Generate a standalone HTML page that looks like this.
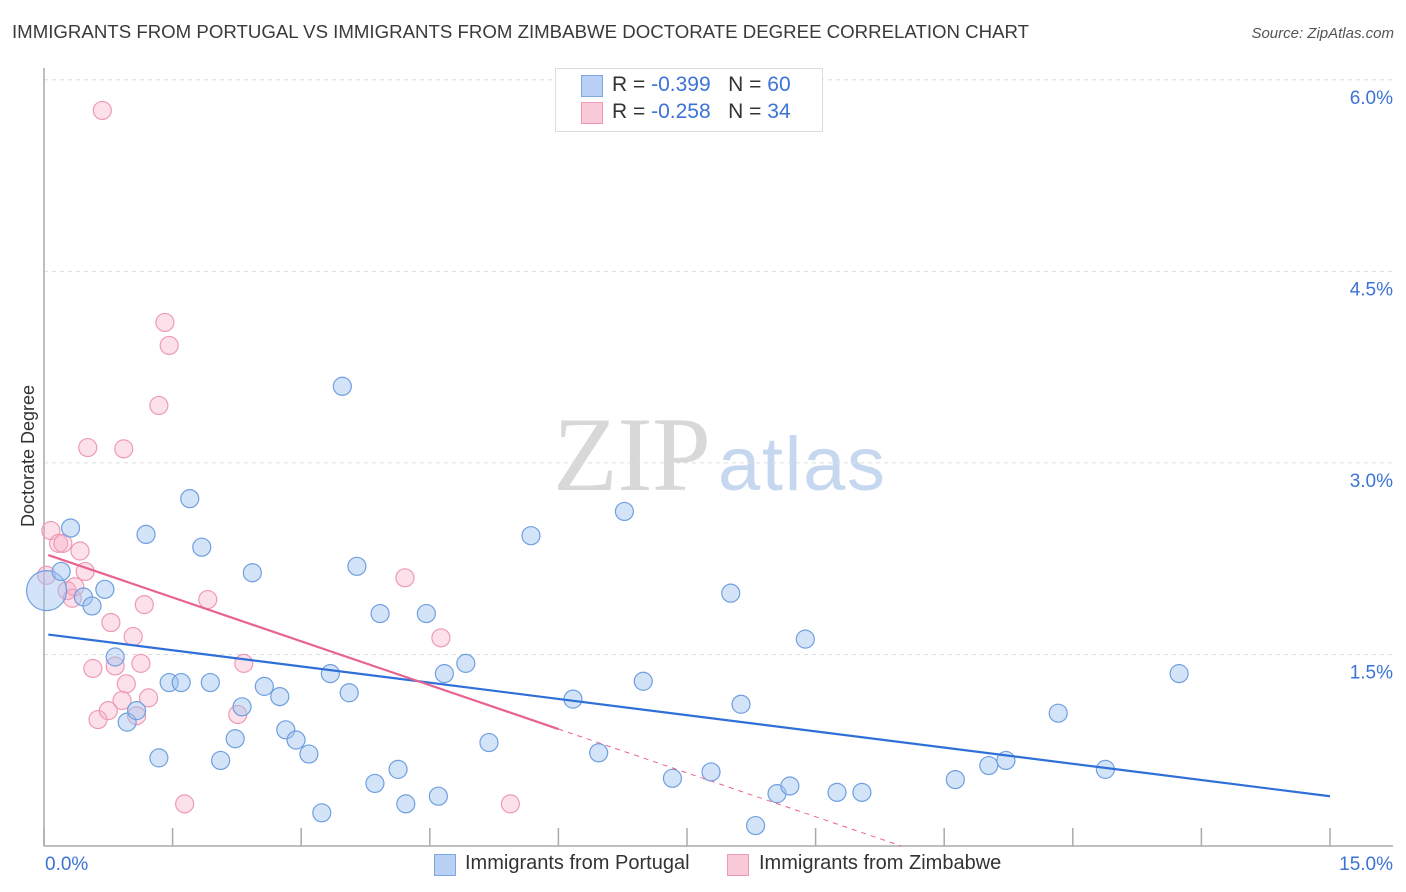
<!DOCTYPE html>
<html><head><meta charset="utf-8"><style>
body{margin:0;background:#fff;font-family:"Liberation Sans",sans-serif;}
#wrap{position:relative;width:1406px;height:892px;overflow:hidden;}
.t{position:absolute;white-space:nowrap;}
</style></head><body>
<div id="wrap">
<div class="t" style="left:12px;top:22px;font-size:18px;transform:scaleX(1.036);transform-origin:left;color:#3a3a3a;">IMMIGRANTS FROM PORTUGAL VS IMMIGRANTS FROM ZIMBABWE DOCTORATE DEGREE CORRELATION CHART</div>
<div class="t" style="right:12px;top:25px;font-size:15px;color:#555;font-style:italic;">Source: ZipAtlas.com</div>
<svg id="chart" width="1406" height="892" style="position:absolute;left:0;top:0">
<text x="553" y="490" font-family="Liberation Serif,serif" font-size="106" textLength="158" fill="#d8d8d8">ZIP</text>
<text x="718" y="490" font-family="Liberation Sans,sans-serif" font-size="76" textLength="167" fill="#c6d8f0">atlas</text>
<text transform="translate(34,456) rotate(-90)" text-anchor="middle" font-size="18" fill="#333">Doctorate Degree</text>
</svg>
<div class="t" style="left:555px;top:68px;width:266px;height:62px;border:1px solid #ddd;background:#fff;"></div>
<div class="t" style="left:581px;top:75px;width:20px;height:20px;background:#b7d0f3;border:1px solid #7da6e3;"></div>
<div class="t" style="left:612px;top:73px;font-size:21px;color:#333;">R = <span style="color:#3b73d6">-0.399</span>&nbsp;&nbsp;&nbsp;N = <span style="color:#3b73d6">60</span></div>
<div class="t" style="left:581px;top:102px;width:20px;height:20px;background:#f9c9d7;border:1px solid #ee9ab4;"></div>
<div class="t" style="left:612px;top:100px;font-size:21px;color:#333;">R = <span style="color:#3b73d6">-0.258</span>&nbsp;&nbsp;&nbsp;N = <span style="color:#3b73d6">34</span></div>
<div class="t" style="left:434px;top:854px;width:20px;height:20px;background:#b7d0f3;border:1px solid #7da6e3;"></div>
<div class="t" style="left:465px;top:852px;font-size:20px;color:#333;">Immigrants from Portugal</div>
<div class="t" style="left:727px;top:854px;width:20px;height:20px;background:#f9c9d7;border:1px solid #ee9ab4;"></div>
<div class="t" style="left:759px;top:852px;font-size:20px;color:#333;">Immigrants from Zimbabwe</div>
</div>
<script>
const yTicks=[1.5,3.0,4.5,6.0];
const yTickLabels=["1.5%","3.0%","4.5%","6.0%"];
const xTicks=[0,1.5,3,4.5,6,7.5,9,10.5,12,13.5,15];
const xEndLabels=["0.0%","15.0%"];
const portugalX=[0.03,0.20,0.31,0.46,0.56,0.71,0.83,0.97,1.08,1.19,1.34,1.46,1.60,1.70,1.84,1.94,2.06,2.23,2.31,2.43,2.57,2.75,2.82,2.94,3.09,3.24,3.34,3.48,3.56,3.65,3.86,3.92,4.13,4.22,4.46,4.60,4.67,4.92,5.19,5.68,6.17,6.47,6.77,6.99,7.33,7.78,8.01,8.13,8.30,8.55,8.70,8.88,9.25,9.54,10.63,11.02,11.22,11.83,12.38,13.24];
const portugalY=[2.00,2.15,2.49,1.95,1.88,2.01,1.48,0.97,1.06,2.44,0.69,1.28,1.28,2.72,2.34,1.28,0.67,0.84,1.09,2.14,1.25,1.17,0.91,0.83,0.72,0.26,1.35,3.60,1.20,2.19,0.49,1.82,0.60,0.33,1.82,0.39,1.35,1.43,0.81,2.43,1.15,0.73,2.62,1.29,0.53,0.58,1.98,1.11,0.16,0.41,0.47,1.62,0.42,0.42,0.52,0.63,0.67,1.04,0.60,1.35];
const zimX=[0.08,0.17,0.22,0.27,0.33,0.36,0.42,0.48,0.51,0.57,0.63,0.68,0.75,0.78,0.83,0.91,0.93,0.96,1.04,1.08,1.13,1.17,1.22,1.34,1.41,1.46,1.64,1.91,2.26,2.33,4.21,4.63,5.44,0.03];
const zimY=[2.47,2.37,2.37,2.00,1.94,2.03,2.31,2.15,3.12,1.39,0.99,5.76,1.06,1.75,1.41,1.14,3.11,1.27,1.64,1.02,1.43,1.89,1.16,3.45,4.10,3.92,0.33,1.93,1.03,1.43,2.10,1.63,0.33,2.12];
const portugalTrend=[1.66,-0.0847];
const zimTrend=[2.29,-0.229];
const zimSolidEnd=6.0;

const X0=44,X1=1330,Y0=846,YPX=127.7;
const xs=v=>X0+v*(X1-X0)/15;
const ys=v=>Y0-v*YPX;
const svg=document.getElementById('chart');
const NS='http://www.w3.org/2000/svg';
function mk(tag,attrs){const e=document.createElementNS(NS,tag);for(const k in attrs)e.setAttribute(k,attrs[k]);svg.appendChild(e);return e;}
yTicks.forEach((v,i)=>{
  const g=mk('line',{x1:X0,x2:1393,y1:ys(v),y2:ys(v),stroke:'#ddd','stroke-dasharray':'4,4'});
  
  
  const t=mk('text',{x:1393,y:ys(v)+24,'text-anchor':'end','font-size':19,fill:'#3b73d6'});
  t.textContent=yTickLabels[i];
  
  
});
const ax=mk('line',{x1:X0,x2:X0,y1:68,y2:Y0,stroke:'#aaa','stroke-width':1.5});


const bx=mk('line',{x1:X0,x2:1393,y1:Y0,y2:Y0,stroke:'#aaa','stroke-width':1.5});


xTicks.forEach(v=>{
  const l=mk('line',{x1:xs(v),x2:xs(v),y1:828,y2:Y0,stroke:'#aaa','stroke-width':1.5});
  
  
});
const xl0=mk('text',{x:45,y:870,'font-size':19,fill:'#3b73d6'});xl0.textContent=xEndLabels[0];


const xl1=mk('text',{x:1393,y:870,'text-anchor':'end','font-size':19,fill:'#3b73d6'});xl1.textContent=xEndLabels[1];


zimX.forEach((v,i)=>{
  const c=mk('circle',{cx:xs(v),cy:ys(zimY[i]),r:9,fill:'rgba(246,170,196,0.35)',stroke:'#ef9ab5','stroke-width':1.2});
  
  
});
portugalX.forEach((v,i)=>{
  const c=mk('circle',{cx:xs(v),cy:ys(portugalY[i]),r:i===0?20:9,fill:'rgba(160,195,240,0.45)',stroke:'#6f9fe0','stroke-width':1.2});
  
  
});
const pl=mk('line',{x1:xs(0.05),y1:ys(portugalTrend[0]+portugalTrend[1]*0.05),x2:xs(15),y2:ys(portugalTrend[0]+portugalTrend[1]*15),stroke:'#2f6fd8','stroke-width':2.2});


const zl=mk('line',{x1:xs(0.05),y1:ys(zimTrend[0]+zimTrend[1]*0.05),x2:xs(zimSolidEnd),y2:ys(zimTrend[0]+zimTrend[1]*zimSolidEnd),stroke:'#e8638e','stroke-width':2.2});


const xEnd=-zimTrend[0]/zimTrend[1];
const zd=mk('line',{x1:xs(zimSolidEnd),y1:ys(zimTrend[0]+zimTrend[1]*zimSolidEnd),x2:xs(xEnd),y2:ys(0),stroke:'#e8638e','stroke-width':1,'stroke-dasharray':'5,5'});


</script>
</body></html>
